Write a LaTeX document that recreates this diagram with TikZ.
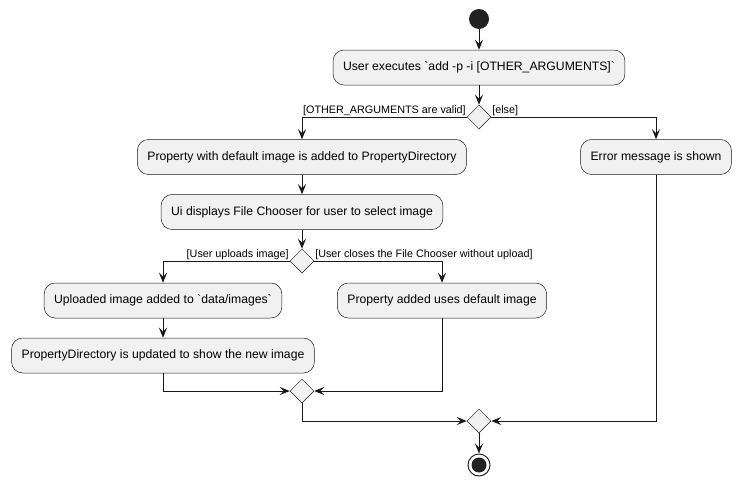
\documentclass[tikz,border=0pt]{standalone}
\usepackage{fontspec}
\setmainfont{Liberation Sans}
\usetikzlibrary{shapes.geometric, arrows.meta}
\definecolor{umlfill}{HTML}{F1F1F1}
\definecolor{umlborder}{HTML}{181818}
\definecolor{umlline}{HTML}{181818}
\definecolor{umldark}{HTML}{222222}

\begin{document}
\begin{tikzpicture}[x=1pt, y=-1pt,
    action/.style={draw=umlborder, line width=0.5pt, fill=umlfill, rounded corners=11pt,
        minimum height=35pt, inner xsep=10pt, font=\fontsize{12.2}{14}\selectfont},
    branch/.style={draw=umlborder, line width=0.5pt, fill=umlfill, diamond, aspect=1,
        minimum size=24pt, inner sep=0pt},
    flow/.style={-{Stealth[length=10pt,width=8pt,inset=4pt]}, line width=1pt, umlline},
    guard/.style={font=\fontsize{10.8}{13}\selectfont, inner sep=0.8pt}]
    \useasboundingbox (0,0) rectangle (743,485);
    % start and first action
    \node[circle, fill=umldark, minimum size=20pt, inner sep=0pt] (start) at (479,19) {};
    \node[action] (exec) at (479,67.5) {User executes \textasciigrave add -p -i [OTHER\_ARGUMENTS]\textasciigrave};
    \node[branch] (valid) at (479,117) {};
    % valid branch
    \node[action] (added) at (302,157) {Property with default image is added to PropertyDirectory};
    \node[action] (chooser) at (302,212) {Ui displays File Chooser for user to select image};
    \node[branch] (upload) at (302,261) {};
    \node[action] (saved) at (163,300.5) {Uploaded image added to \textasciigrave data/images\textasciigrave};
    \node[action] (updated) at (163,355.5) {PropertyDirectory is updated to show the new image};
    \node[action] (keep) at (442,300.5) {Property added uses default image};
    \node[branch] (joinup) at (302,391) {};
    % else branch
    \node[action] (error) at (656,157) {Error message is shown};
    \node[branch] (joinall) at (479,421) {};
    \node[circle, draw=umldark, line width=1pt, fill=white, minimum size=22pt, inner sep=0pt] (stop) at (479,465) {};
    \fill[umldark] (stop) circle (7.5pt);
    % guards
    \node[guard, anchor=south east] at (valid.west) {[OTHER\_ARGUMENTS are valid]};
    \node[guard, anchor=south west] at (valid.east) {[else]};
    \node[guard, anchor=south east] at (upload.west) {[User uploads image]};
    \node[guard, anchor=south west] at (upload.east) {[User closes the File Chooser without upload]};
    % connectors
    \draw[flow] (start) -- (exec);
    \draw[flow] (exec) -- (valid);
    \draw[flow] (valid.west) -| (added);
    \draw[flow] (valid.east) -| (error);
    \draw[flow] (added) -- (chooser);
    \draw[flow] (chooser) -- (upload);
    \draw[flow] (upload.west) -| (saved);
    \draw[flow] (upload.east) -| (keep);
    \draw[flow] (saved) -- (updated);
    \draw[flow] (updated) |- (joinup.west);
    \draw[flow] (keep) |- (joinup.east);
    \draw[flow] (joinup) |- (joinall.west);
    \draw[flow] (error) |- (joinall.east);
    \draw[flow] (joinall) -- (stop);
\end{tikzpicture}
\end{document}
